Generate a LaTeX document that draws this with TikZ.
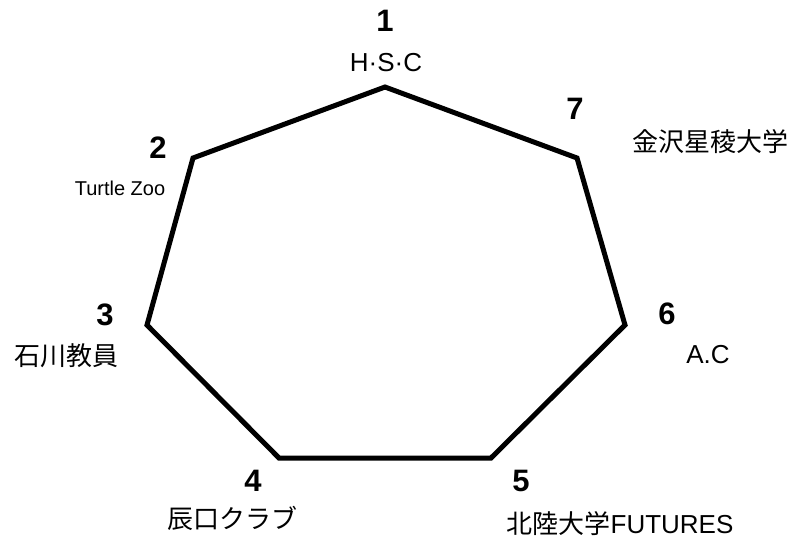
\documentclass[tikz,border=0pt]{standalone}
\usepackage{fontspec}
\setmainfont{Liberation Sans}
\newfontfamily\jpfont{Noto Sans CJK JP}
\tikzset{
  num/.style={font=\fontsize{15.5}{15.5}\selectfont\bfseries, inner sep=0pt},
  team/.style={font=\fontsize{13}{13}\selectfont, inner sep=0pt},
  small team/.style={team, font=\fontsize{10}{10}\selectfont},
  ring/.style={line width=2.5pt},
}
\begin{document}
\begin{tikzpicture}[x=0.5pt, y=-0.5pt]
\useasboundingbox (0,0) rectangle (791,542);
% corners of the heptagon
\coordinate (p1) at (385, 87);
\coordinate (p2) at (193,158);
\coordinate (p3) at (147,325);
\coordinate (p4) at (279,458);
\coordinate (p5) at (491,458);
\coordinate (p6) at (625,325);
\coordinate (p7) at (577,158);
\draw[ring] (p1) -- (p7) -- (p6) -- (p5) -- (p4) -- (p3) -- (p2) -- cycle;
% numbers
\node[num] at (385, 21) (n1) {1};
\node[num] at (158,148) (n2) {2};
\node[num] at (105,315) (n3) {3};
\node[num] at (253,481) (n4) {4};
\node[num] at (521,481) (n5) {5};
\node[num] at (667,314) (n6) {6};
\node[num] at (575,109) (n7) {7};
% teams
\node[team] at (386, 63) (t1) {H·S·C};
\node[small team] at (120,188) (t2) {Turtle Zoo};
\node[team] at (66,356) (t3) {\jpfont 石川教員};
\node[team] at (232,518) (t4) {\jpfont 辰口クラブ};
\node[team] at (620,524) (t5) {{\jpfont 北陸大学}FUTURES};
\node[team] at (708,355) (t6) {A.C};
\node[team] at (710,142) (t7) {\jpfont 金沢星稜大学};
\end{tikzpicture}
\end{document}
